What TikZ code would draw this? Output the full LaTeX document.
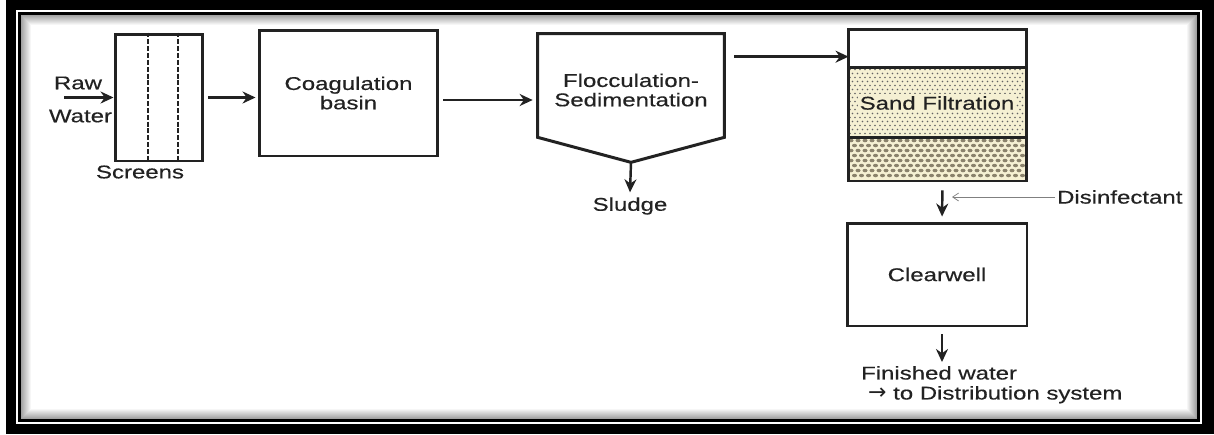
\documentclass[tikz,border=0pt]{standalone}
\usepackage{fontspec}
\setmainfont[FakeStretch=1.3,FakeBold=0.4]{Liberation Sans}
\newfontfamily\arrowfont{DejaVu Sans}
\usetikzlibrary{positioning}
\usetikzlibrary{arrows.meta}
\definecolor{sandbg}{HTML}{F5F0D3}
\definecolor{grit}{HTML}{8A826C}
\definecolor{ink}{HTML}{222222}

\begin{document}
\begin{tikzpicture}[x=0.02cm,y=-0.02cm,
  every node/.style={font=\fontsize{10.5}{11}\selectfont,text=ink},
  lbl/.style={inner sep=1pt},
  box/.style={draw=ink,line width=1.7pt,inner sep=1pt,line join=miter},
  screen/.style={draw=ink,line width=1.7pt,dash pattern=on 2.8pt off 1.1pt},
  flow/.style={draw=ink,line width=1.4pt,-{Stealth[length=0.26cm,width=0.24cm]}},
  dose/.style={draw=gray,line width=0.4pt,-{Straight Barb[length=0.12cm,width=0.16cm]}}]
\useasboundingbox (0,0) rectangle (1214,434);
\fill[black] (6,0) rectangle (1214,434);
\draw[white,line width=0.04cm] (17,11) rectangle (1201,423);
\fill[white] (21,15) rectangle (1197,419);
\foreach \i [evaluate=\i as \sh using 36-3.6*\i] in {0,...,9}
  \draw[black!\sh,line width=0.02cm] (21.5+\i,15.5+\i) rectangle (1196.5-\i,418.5-\i);

\node[box,minimum width=1.76cm,minimum height=2.54cm](screens) at (159,97.5){};
\draw[screen] ([xshift=-0.22cm]screens.north) -- ([xshift=-0.22cm]screens.south);
\draw[screen] ([xshift=0.38cm]screens.north) -- ([xshift=0.38cm]screens.south);
\node[lbl](raw) at (78,83){Raw};
\node[lbl](water) at (80.5,116){Water};
\coordinate (rawin) at (64,97.5);
\node[lbl](scrlbl) at (140,172){Screens};

\node[box,minimum width=3.58cm,minimum height=2.52cm,align=center](coag) at (348.5,93){Coagulation\\basin};

\node[minimum width=3.72cm,minimum height=2.06cm](flocbox) at (631,85.5){};
\draw[box] (flocbox.north west) -- (flocbox.north east) -- (flocbox.south east)
  -- ([yshift=-0.5cm]flocbox.south) coordinate (hopper) -- (flocbox.south west) -- cycle;
\node[lbl,align=center](floc) at (631,90){Flocculation-\\Sedimentation};
\node[lbl](sludge) at (630,206){Sludge};

\fill[sandbg] (848,67) rectangle (1027,181);
\foreach \r in {0,...,16}
  \foreach \c in {0,...,34}
    \fill[ink!70] ({850+5*\c+2.5*mod(\r,2)},{69.5+4*\r}) circle[radius=0.017cm];
\foreach \r in {0,...,7}
  \foreach \c in {0,...,24}
    \fill[grit] ({851+7*\c+3.5*mod(\r,2)},{140.5+5*\r}) circle[x radius=0.05cm,y radius=0.035cm];
\draw[box] (848,67) -- (1027,67);
\draw[box] (848,137) -- (1027,137);
\node[box,minimum width=3.58cm,minimum height=3.04cm](filter) at (937.5,105){};
\node[lbl,fill=sandbg](sandlbl) at (937,103){Sand Filtration};

\node[box,minimum width=3.6cm,minimum height=2.06cm](clear) at (937,274.5){Clearwell};
\node[lbl,anchor=west](disin) at (1055,197){Disinfectant};
\node[lbl,anchor=north west](finished) at (859,364){Finished water};
\node[lbl,anchor=base west,xshift=0.14cm,yshift=-0.4cm](distrib) at (finished.base west){{\arrowfont\fontsize{12.5}{11}\selectfont →} to Distribution system};

\draw[flow] (rawin) -- (screens.west);
\draw[flow,shorten <=0.08cm,shorten >=0.04cm] (screens.east) -- (screens.east -| coag.west);
\draw[flow,shorten <=0.08cm,shorten >=0.1cm] ([yshift=-0.14cm]coag.east) -- ([yshift=-0.14cm]coag.east -| flocbox.west);
\draw[flow] (hopper) -- ([yshift=0.06cm]sludge.north);
\draw[flow,shorten >=0.16cm] ([shift={(0.2cm,-0.46cm)}]flocbox.north east) -- ([shift={(0.2cm,-0.46cm)}]flocbox.north east -| filter.west);
\draw[flow,shorten <=0.16cm,shorten >=0.1cm] ([xshift=0.1cm]filter.south) -- ([xshift=0.1cm]clear.north);
\draw[dose] (disin.west) -- ++(-103,0);
\draw[flow,shorten <=0.14cm,shorten >=0.04cm] ([xshift=0.1cm]clear.south) -- ([xshift=0.1cm]clear.south |- finished.north);
\end{tikzpicture}
\end{document}
